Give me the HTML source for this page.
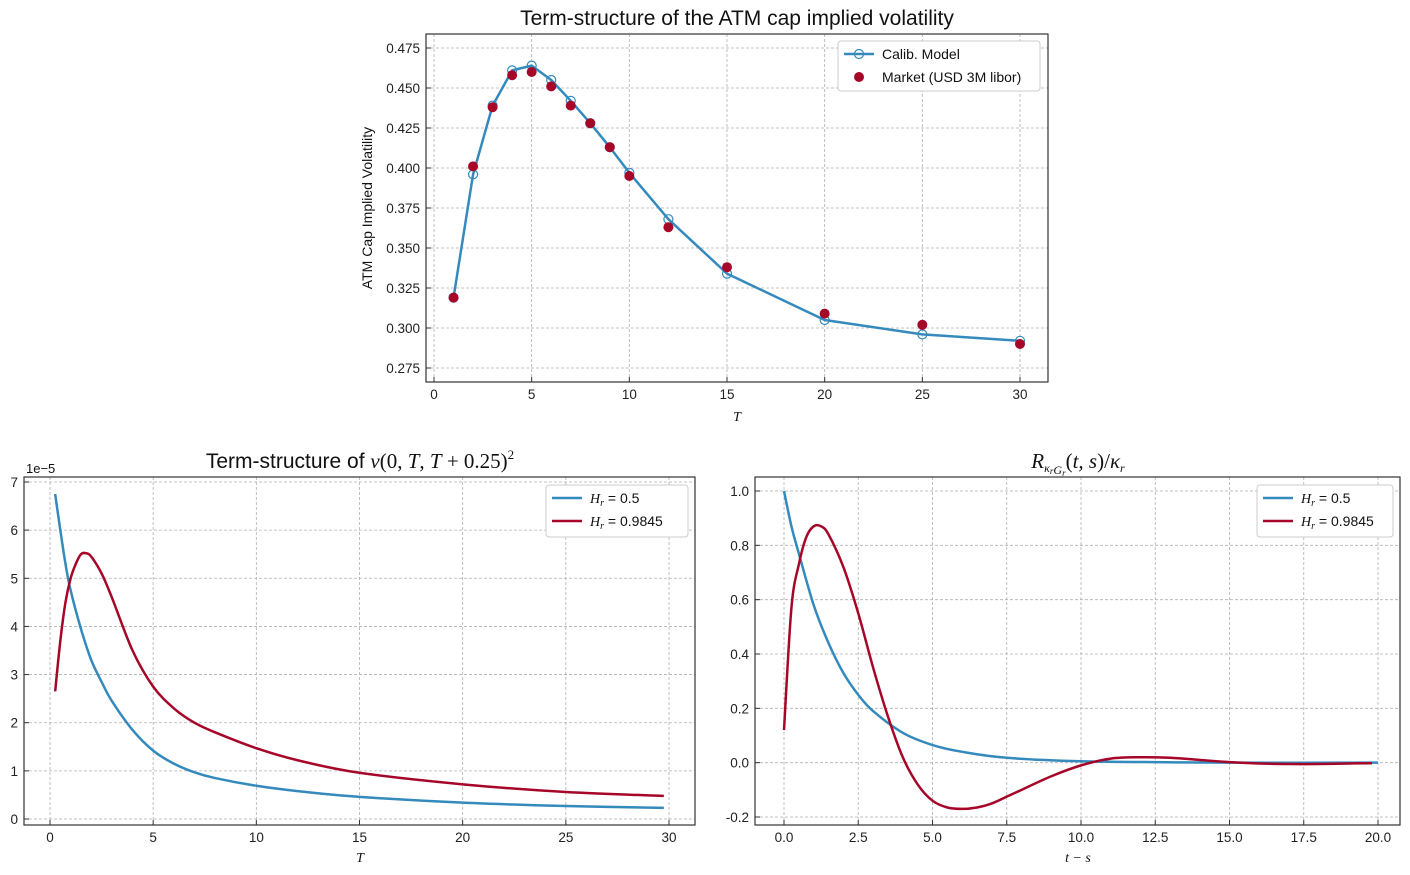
<!DOCTYPE html>
<html><head><meta charset="utf-8"><style>
body{margin:0;background:#fff;width:1410px;height:870px;overflow:hidden}
svg{font-family:"Liberation Sans","DejaVu Sans",sans-serif}
.m{font-family:"Liberation Serif","DejaVu Serif",serif;font-style:italic}
</style></head><body>
<svg id="s" width="1410" height="870"></svg>
<script>
const capT=[1,2,3,4,5,6,7,8,9,10,12,15,20,25,30];
const capModel=[0.319,0.396,0.439,0.461,0.464,0.455,0.442,0.428,0.413,0.397,0.368,0.334,0.305,0.296,0.292];
const capMarket=[0.319,0.401,0.438,0.458,0.460,0.451,0.439,0.428,0.413,0.395,0.363,0.338,0.309,0.302,0.290];
const capYTicks=[0.275,0.300,0.325,0.350,0.375,0.400,0.425,0.450,0.475];
const capXTicks=[0,5,10,15,20,25,30];

const vT=[0.25,0.5,0.75,1,1.5,2,2.5,3,4,5,6,7,8,10,12,15,20,25,29.75];
const vBlue=[6.75,6.0,5.3,4.75,3.95,3.3,2.85,2.45,1.85,1.42,1.15,0.97,0.85,0.69,0.58,0.46,0.34,0.27,0.23];
const vRedT=[0.25,0.5,0.75,1,1.25,1.5,1.75,2,2.5,3,4,5,6,7,8,10,12,15,20,25,29.75];
const vRed=[2.65,3.7,4.5,5.0,5.3,5.5,5.52,5.45,5.1,4.6,3.5,2.75,2.3,2.0,1.8,1.47,1.22,0.96,0.72,0.56,0.48];
const vYTicks=[0,1,2,3,4,5,6,7];
const vXTicks=[0,5,10,15,20,25,30];

const rBT=[0,0.25,0.5,1,1.5,2,2.5,3,4,5,6,7.5,10,12.5,15,20];
const rBlue=[1,0.87,0.77,0.58,0.44,0.33,0.25,0.19,0.11,0.065,0.04,0.018,0.005,0.002,0,0];
const rRT=[0,0.25,0.5,0.75,1,1.25,1.5,2,2.5,3,3.5,4,4.5,5,5.5,6,6.5,7,7.5,8,9,10,11,12,13,14,15,16,17,18,19,19.8];
const rRed=[0.12,0.57,0.73,0.83,0.87,0.87,0.84,0.72,0.55,0.35,0.17,0.02,-0.08,-0.14,-0.165,-0.17,-0.165,-0.15,-0.125,-0.1,-0.05,-0.01,0.015,0.02,0.018,0.01,0.002,-0.003,-0.005,-0.005,-0.003,-0.002];
const rYTicks=[-0.2,0,0.2,0.4,0.6,0.8,1.0];
const rXTicks=[0,2.5,5,7.5,10,12.5,15,17.5,20];

const NS='http://www.w3.org/2000/svg', S=document.getElementById('s');
function el(t,a,p){const e=document.createElementNS(NS,t);for(const k in a)e.setAttribute(k,a[k]);(p||S).appendChild(e);return e;}
const BLUE='#348abd', RED='#a60628';

function panel(o){
  const g=el('g',{});
  
  
  const xs=v=>o.x0+(v-o.xa)*(o.x1-o.x0)/(o.xb-o.xa);
  const ys=v=>o.y0+(v-o.ya)*(o.y1-o.y0)/(o.yb-o.ya);
  o.xt.forEach(v=>{const x=xs(v);
    const l=el('line',{x1:x,x2:x,y1:o.top,y2:o.bot,stroke:'#b0b0b0','stroke-dasharray':'3,2','stroke-width':0.8},g);
    
    el('line',{x1:x,x2:x,y1:o.bot,y2:o.bot-5,stroke:'#333'},g);
    const t=el('text',{x:x,y:o.bot+17,'text-anchor':'middle','font-size':13.5,fill:'#222'},g);t.textContent=o.xf(v);
    });
  o.yt.forEach(v=>{const y=ys(v);
    const l=el('line',{x1:o.left,x2:o.right,y1:y,y2:y,stroke:'#b0b0b0','stroke-dasharray':'3,2','stroke-width':0.8},g);
    
    el('line',{x1:o.left,x2:o.left+5,y1:y,y2:y,stroke:'#333'},g);
    const t=el('text',{x:o.left-6,y:y+5,'text-anchor':'end','font-size':13.5,fill:'#222'},g);t.textContent=o.yf(v);
    });
  const fr=el('rect',{x:o.left,y:o.top,width:o.right-o.left,height:o.bot-o.top,fill:'none',stroke:'#333','stroke-width':1.2},g);
  
  return {g,xs,ys};
}
function smoothPath(pts){
  let d='M'+pts[0][0]+','+pts[0][1];
  for(let i=0;i<pts.length-1;i++){
    const p0=pts[Math.max(0,i-1)],p1=pts[i],p2=pts[i+1],p3=pts[Math.min(pts.length-1,i+2)];
    const c1x=p1[0]+(p2[0]-p0[0])/6,c1y=p1[1]+(p2[1]-p0[1])/6;
    const c2x=p2[0]-(p3[0]-p1[0])/6,c2y=p2[1]-(p3[1]-p1[1])/6;
    d+=' C'+c1x+','+c1y+' '+c2x+','+c2y+' '+p2[0]+','+p2[1];
  }
  return d;
}
function line(P,X,Y,c,name,smooth){
  const pts=X.map((x,i)=>[P.xs(x),P.ys(Y[i])]);
  const d=smooth?smoothPath(pts):'M'+pts.map(p=>p.join(',')).join(' L');
  const p=el('path',{d:d,fill:'none',stroke:c,'stroke-width':2.5,'stroke-linejoin':'round'},P.g);
  
}
function txt(x,y,s,size,anchor,cls,name,rot){
  const t=el('text',{x:x,y:y,'font-size':size,'text-anchor':anchor||'middle',fill:'#111'});
  if(cls)t.setAttribute('class',cls);
  if(rot)t.setAttribute('transform','rotate(-90 '+x+' '+y+')');
  t.innerHTML=s;
  return t;
}
function legend(x,y,w,h,items,name){
  const g=el('g',{});
  
  el('rect',{x:x,y:y,width:w,height:h,fill:'#fff',stroke:'#ccc',rx:3},g);
  items.forEach((it,i)=>{const yy=y+13+i*23;
    const e=el('g',{},g);
    
    if(it.type==='line'){el('line',{x1:x+6,x2:x+36,y1:yy,y2:yy,stroke:it.c,'stroke-width':2.5},e);
      if(it.m)el('circle',{cx:x+21,cy:yy,r:4.5,fill:'none',stroke:it.c,'stroke-width':1.2},e);}
    else el('circle',{cx:x+21,cy:yy,r:5,fill:it.c},e);
    const t=el('text',{x:x+44,y:yy+5,'font-size':14,fill:'#111'},e);t.innerHTML=it.t;});
}

const fmt3=v=>v.toFixed(3);
const A=panel({name:'cap-vol-chart',left:426,right:1048,top:34,bot:382,x0:434,x1:1020,xa:0,xb:30,y0:48,y1:368,ya:0.475,yb:0.275,xt:capXTicks,yt:capYTicks,xf:v=>v,yf:fmt3});
line(A,capT,capModel,BLUE,'calib-model-line',false);
capT.forEach((t,i)=>{const c=el('circle',{cx:A.xs(t),cy:A.ys(capModel[i]),r:4.5,fill:'none',stroke:BLUE,'stroke-width':1.2},A.g);
  });
capT.forEach((t,i)=>{const c=el('circle',{cx:A.xs(t),cy:A.ys(capMarket[i]),r:5,fill:RED},A.g);
  });
legend(838,41,202,50,[{type:'line',c:BLUE,m:1,t:'Calib. Model'},{type:'pt',c:RED,t:'Market (USD 3M libor)'}],'cap-legend');
txt(737,25,'Term-structure of the ATM cap implied volatility',21,'middle','','cap-chart-title');
txt(372,208,'ATM Cap Implied Volatility',14,'middle','','cap-y-axis-title',1);
txt(737,421,'T',14,'middle','m','cap-x-axis-title');

const B=panel({name:'v-term-chart',left:24,right:695,top:477,bot:825,x0:50,x1:669,xa:0,xb:30,y0:819,y1:482,ya:0,yb:7,xt:vXTicks,yt:vYTicks,xf:v=>v,yf:v=>v});
line(B,vT,vBlue,BLUE,'hr-0.5-line',true);
line(B,vRedT,vRed,RED,'hr-0.9845-line',true);
legend(546,485,142,52,[{type:'line',c:BLUE,t:'<tspan class="m" font-family="Liberation Serif">H<tspan font-size="10" dy="3">r</tspan></tspan><tspan dy="-3"> = 0.5</tspan>'},{type:'line',c:RED,t:'<tspan class="m" font-family="Liberation Serif">H<tspan font-size="10" dy="3">r</tspan></tspan><tspan dy="-3"> = 0.9845</tspan>'}],'v-legend');
txt(26,473,'1e−5',13,'start','','y-offset-label');
txt(360,468,'Term-structure of <tspan class="m" font-family="Liberation Serif">v</tspan><tspan font-family="Liberation Serif">(0, </tspan><tspan class="m" font-family="Liberation Serif">T</tspan><tspan font-family="Liberation Serif">, </tspan><tspan class="m" font-family="Liberation Serif">T</tspan><tspan font-family="Liberation Serif"> + 0.25)</tspan><tspan font-size="13" dy="-9" font-family="Liberation Serif">2</tspan>',21,'middle','','v-chart-title');
txt(360,862,'T',14,'middle','m','v-x-axis-title');

const C=panel({name:'r-kernel-chart',left:755,right:1400,top:477,bot:825,x0:784,x1:1378,xa:0,xb:20,y0:491,y1:817,ya:1,yb:-0.2,xt:rXTicks,yt:rYTicks,xf:v=>v.toFixed(1),yf:v=>v.toFixed(1)});
line(C,rBT,rBlue,BLUE,'hr-0.5-kernel-line',true);
line(C,rRT,rRed,RED,'hr-0.9845-kernel-line',true);
legend(1257,485,136,52,[{type:'line',c:BLUE,t:'<tspan class="m" font-family="Liberation Serif">H<tspan font-size="10" dy="3">r</tspan></tspan><tspan dy="-3"> = 0.5</tspan>'},{type:'line',c:RED,t:'<tspan class="m" font-family="Liberation Serif">H<tspan font-size="10" dy="3">r</tspan></tspan><tspan dy="-3"> = 0.9845</tspan>'}],'r-legend');
txt(1078,468,'R<tspan font-size="12" dy="4">κ<tspan font-size="9" dy="2">r</tspan>G<tspan font-size="9" dy="2">r</tspan></tspan><tspan dy="-8" font-style="normal">(</tspan>t, s<tspan font-style="normal">)/</tspan>κ<tspan font-size="12" dy="4">r</tspan>',21,'middle','m','r-chart-title');
txt(1078,862,'t − s',14,'middle','m','r-x-axis-title');
</script>
</body></html>
